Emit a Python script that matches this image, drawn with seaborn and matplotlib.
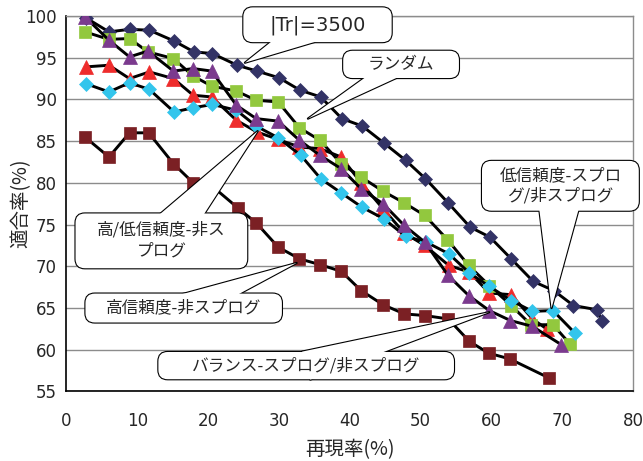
import matplotlib
matplotlib.use("Agg")
import matplotlib.pyplot as plt
import seaborn as sns
from matplotlib.patches import FancyBboxPatch

# |Tr|=3500 (navy diamonds)
tr_x = [2.7, 6.0, 8.9, 11.7, 15.2, 18.0, 20.6, 24.1, 26.9, 30.0, 33.0, 35.9, 38.9,
        41.8, 44.8, 47.9, 50.7, 53.9, 57.0, 59.8, 62.8, 65.9, 68.8, 71.6, 74.9, 75.6]
tr_y = [99.8, 98.1, 98.4, 98.3, 97.0, 95.7, 95.5, 94.1, 93.4, 92.6, 91.1, 90.3, 87.7,
        86.8, 84.8, 82.7, 80.5, 77.6, 74.7, 73.5, 70.9, 68.2, 67.1, 65.3, 64.8, 63.4]

# ランダム (green squares)
rnd_x = [2.6, 6.0, 8.9, 11.5, 15.1, 17.9, 20.5, 24.0, 26.8, 29.9, 32.9, 35.8, 38.8,
         41.6, 44.7, 47.7, 50.6, 53.8, 56.8, 59.7, 62.8, 65.6, 68.7, 71.1]
rnd_y = [98.1, 97.2, 97.3, 95.7, 94.9, 92.8, 91.6, 91.0, 89.9, 89.7, 86.6, 85.1, 82.3,
         80.7, 79.0, 77.6, 76.1, 73.2, 70.1, 67.7, 65.3, 63.0, 63.0, 60.7]

# 高/低信頼度-非スプログ (red triangles)
hl_x = [2.7, 6.0, 8.9, 11.7, 15.1, 17.9, 20.5, 24.0, 26.9, 29.9, 32.9, 35.8, 38.8,
        41.6, 44.7, 47.7, 50.6, 54.0, 56.9, 59.7, 62.8, 65.8, 67.8]
hl_y = [93.9, 94.1, 92.5, 93.3, 92.5, 90.5, 90.3, 87.5, 86.1, 85.2, 84.3, 84.1, 83.1,
        80.0, 76.9, 74.0, 72.5, 70.1, 69.3, 66.8, 66.6, 63.7, 62.5]

# 低信頼度-スプログ/非スプログ (cyan diamonds)
lo_x = [2.7, 6.0, 8.9, 11.7, 15.2, 17.9, 20.6, 24.0, 26.8, 29.9, 33.1, 35.9, 38.8,
        41.7, 44.8, 47.9, 50.8, 54.0, 56.9, 59.7, 62.8, 65.8, 68.7, 71.8]
lo_y = [91.9, 90.9, 92.0, 91.2, 88.5, 89.0, 89.4, 88.7, 86.8, 85.4, 83.3, 80.5, 78.8,
        77.1, 75.7, 73.6, 72.9, 71.5, 69.2, 67.6, 65.9, 64.6, 64.7, 62.0]

# バランス-スプログ/非スプログ (purple triangles)
bal_x = [2.6, 6.0, 8.9, 11.5, 15.1, 17.9, 20.5, 24.0, 26.8, 29.9, 32.9, 35.8, 38.8,
         41.6, 44.7, 47.7, 50.6, 53.9, 56.8, 59.7, 62.7, 65.8, 69.9]
bal_y = [99.9, 97.1, 95.1, 95.8, 93.4, 93.7, 93.4, 89.3, 87.7, 87.4, 85.1, 83.3, 81.7,
         79.3, 77.5, 74.9, 72.9, 68.9, 66.5, 64.7, 63.5, 62.8, 60.6]

# 高信頼度-非スプログ (dark red squares)
hi_x = [2.6, 6.0, 8.9, 11.6, 15.1, 17.9, 20.3, 24.2, 26.8, 29.9, 32.9, 35.8, 38.8,
        41.6, 44.7, 47.7, 50.6, 53.9, 56.9, 59.6, 62.6, 68.2]
hi_y = [85.5, 83.1, 86.0, 86.0, 82.3, 80.0, 79.8, 77.0, 75.2, 72.3, 70.9, 70.2, 69.4,
        67.1, 65.4, 64.3, 64.1, 63.7, 61.0, 59.6, 58.9, 56.6]

x_ticks = [0, 10, 20, 30, 40, 50, 60, 70, 80]
y_ticks = [55, 60, 65, 70, 75, 80, 85, 90, 95, 100]

sns.set_style("white")
plt.rcParams['font.family'] = ['Noto Sans CJK JP', 'DejaVu Sans']
num_font = ['Liberation Sans Narrow', 'DejaVu Sans']

fig = plt.figure(figsize=(6.43, 4.61), dpi=100)
ax = fig.add_axes([0.1034, 0.1508, 0.881, 0.8145])

# drawing order: bottom -> top
series = [
    (tr_x, tr_y, 'D', '#333366', 6.8),
    (hi_x, hi_y, 's', '#7B2024', 9.0),
    (hl_x, hl_y, '^', '#EE2C2C', 9.5),
    (rnd_x, rnd_y, 's', '#92C83E', 9.0),
    (lo_x, lo_y, 'D', '#33C5EC', 6.8),
    (bal_x, bal_y, '^', '#7B3A8E', 9.5),
]
for xs, ys, mk, col, ms in series:
    sns.lineplot(x=xs, y=ys, ax=ax, color='black', lw=2.1, marker=mk,
                 markersize=ms, markerfacecolor=col, markeredgecolor=col,
                 markeredgewidth=0.5, estimator=None, sort=False, zorder=3)

ax.set_xlim(0, 80)
ax.set_ylim(55, 100)
ax.set_xticks(x_ticks)
ax.set_yticks(y_ticks)
ax.set_xticklabels([str(t) for t in x_ticks], family=num_font, fontsize=12)
ax.set_yticklabels([str(t) for t in y_ticks], family=num_font, fontsize=12)
ax.tick_params(axis='x', direction='in', length=5, width=1, color='black', pad=15)
ax.tick_params(axis='y', direction='in', length=4, width=1, color='black', pad=7)
ax.yaxis.grid(True, color='#8c8c8c', lw=1)
ax.xaxis.grid(False)
for side in ['left', 'bottom']:
    ax.spines[side].set_color('black')
    ax.spines[side].set_linewidth(1.2)
for side in ['top', 'right']:
    ax.spines[side].set_color('#8c8c8c')
    ax.spines[side].set_linewidth(1)

ax.set_xlabel('再現率(%)', fontsize=14)
ax.set_ylabel('適合率(%)', fontsize=14)
ax.xaxis.set_label_coords(0.5, -0.128)
ax.yaxis.set_label_coords(-0.062, 0.5)


def callout(ax, text, box, tip, tail, size=12, family=None):
    x0, x1, y0, y1 = box
    cx, cy = (x0 + x1) / 2, (y0 + y1) / 2
    wedge = dict(arrowstyle=f"wedge,tail_width={tail},shrink_factor=0.5",
                 mutation_scale=1, patchA=None, patchB=None, shrinkA=0, shrinkB=0)
    ax.annotate('', xy=tip, xytext=(cx, cy), annotation_clip=False, zorder=6,
                arrowprops=dict(wedge, fc='white', ec='black', lw=1.6))
    ax.add_patch(FancyBboxPatch((x0, y0), x1 - x0, y1 - y0,
                                boxstyle='round,pad=0,rounding_size=1.4',
                                mutation_aspect=0.85, fc='white', ec='black',
                                lw=0.8, zorder=7, clip_on=False))
    ax.annotate('', xy=tip, xytext=(cx, cy), annotation_clip=False, zorder=8,
                arrowprops=dict(wedge, fc='white', ec='none', lw=0))
    kw = {} if family is None else {'family': family}
    ax.text(cx, cy, text, ha='center', va='center', fontsize=size, zorder=9,
            linespacing=1.3, **kw)


callout(ax, '|Tr|=3500', (24.9, 46.0, 96.8, 101.1), (25.2, 94.4), 23, size=14, family=num_font)
callout(ax, 'ランダム', (39.0, 55.5, 92.5, 95.9), (34.1, 87.7), 15)
callout(ax, '高/低信頼度-非ス\nプログ', (1.2, 25.6, 69.7, 76.4), (27.0, 86.2), 31)
callout(ax, '高信頼度-非スプログ', (2.6, 30.5, 63.2, 66.8), (32.5, 70.4), 20)
callout(ax, 'バランス-スプログ/非スプログ', (12.9, 54.8, 56.4, 59.8), (59.7, 64.5), 21)
callout(ax, '低信頼度-スプロ\nグ/非スプログ', (58.6, 80.9, 76.6, 82.7), (68.5, 65.0), 35)

fig.savefig('out.png', dpi=100)
